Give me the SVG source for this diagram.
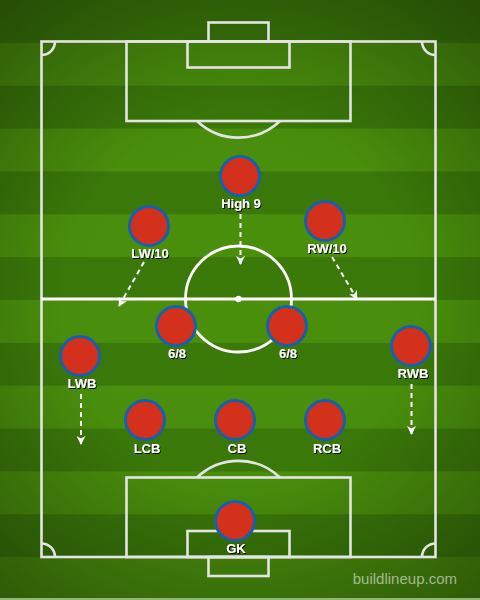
<svg xmlns="http://www.w3.org/2000/svg" width="480" height="600" viewBox="0 0 480 600">
  <defs>
    <radialGradient id="vig" cx="240" cy="300" r="400" gradientUnits="userSpaceOnUse">
      <stop offset="0" stop-color="#000" stop-opacity="0"/>
      <stop offset="0.45" stop-color="#000" stop-opacity="0.02"/>
      <stop offset="1" stop-color="#000" stop-opacity="0.4"/>
    </radialGradient>
    <pattern id="stripes" x="0" y="0" width="480" height="85.714" patternUnits="userSpaceOnUse">
      <rect x="0" y="0" width="480" height="42.857" fill="#3b7a09"/>
      <rect x="0" y="42.857" width="480" height="42.857" fill="#4a900c"/>
    </pattern>
    <marker id="ah" viewBox="0 0 10 10" refX="9" refY="5" markerWidth="9" markerHeight="9" markerUnits="userSpaceOnUse" orient="auto">
      <path d="M0 0 L10 5 L0 10 L3 5 Z" fill="#fff"/>
    </marker>
    <filter id="sh" x="-20%" y="-30%" width="140%" height="160%">
      <feDropShadow dx="1" dy="1" stdDeviation="0.6" flood-color="#000" flood-opacity="0.9"/>
    </filter>
  </defs>
  <style>
    .ln { fill: none; stroke: #e4e4e4; stroke-width: 2.6; }
    .wl { fill: none; stroke: #ffffff; stroke-width: 2.8; }
    .pl { fill: #d3311b; stroke: #1660b0; stroke-width: 3; }
    .lb { font-family: "Liberation Sans", Arial, sans-serif; font-weight: bold; font-size: 13px; fill: #ffffff; text-anchor: middle; filter: url(#sh); }
    .ar { fill: none; stroke: #ffffff; stroke-width: 2; stroke-dasharray: 5 4; marker-end: url(#ah); }
    .wm { font-family: "Liberation Sans", Arial, sans-serif; font-size: 15px; fill: #ffffff; fill-opacity: 0.55; text-anchor: end; }
  </style>

  <g id="pitch">
    <rect x="0" y="0" width="480" height="600" fill="url(#stripes)"/>
    <rect x="0" y="0" width="480" height="600" fill="url(#vig)"/>
    <rect x="0" y="598" width="480" height="2" fill="#8fb870"/>
    <rect class="ln" x="41.5" y="41.5" width="394" height="515.5"/>
    <rect class="ln" x="208.5" y="22.5" width="60" height="19"/>
    <rect class="ln" x="126.5" y="41.5" width="224" height="79.5"/>
    <rect class="ln" x="187.5" y="41.5" width="102" height="26"/>
    <path class="ln" d="M197 121 A60 60 0 0 0 280 121"/>
    <rect class="ln" x="208.5" y="557" width="60" height="19"/>
    <rect class="ln" x="126.5" y="477.5" width="224" height="79.5"/>
    <rect class="ln" x="187.5" y="531" width="102" height="26"/>
    <path class="ln" d="M197 477.5 A60 60 0 0 1 280 477.5"/>
    <path class="ln" stroke-width="1.8" d="M41.5 55 A13.5 13.5 0 0 0 55 41.5"/>
    <path class="ln" stroke-width="1.8" d="M422 41.5 A13.5 13.5 0 0 0 435.5 55"/>
    <path class="ln" stroke-width="1.8" d="M41.5 543.5 A13.5 13.5 0 0 1 55 557"/>
    <path class="ln" stroke-width="1.8" d="M422 557 A13.5 13.5 0 0 1 435.5 543.5"/>
    <line class="wl" x1="41.5" y1="299" x2="435.5" y2="299"/>
    <circle class="wl" cx="238.5" cy="299" r="53"/>
    <circle cx="238.5" cy="299" r="3.2" fill="#fff"/>
  </g>

  <g id="connectors">
    <line class="ar" x1="240.5" y1="214" x2="240.5" y2="264"/>
    <line class="ar" x1="144" y1="262" x2="119" y2="306"/>
    <line class="ar" x1="332" y1="257" x2="357" y2="299"/>
    <line class="ar" x1="81" y1="394" x2="81" y2="444"/>
    <line class="ar" x1="411.5" y1="384" x2="411.5" y2="434"/>
  </g>

  <g id="high9"><circle class="pl" cx="240" cy="176" r="19.5"/><text class="lb" x="241" y="208">High 9</text></g>
  <g id="lw10"><circle class="pl" cx="149" cy="226" r="19.5"/><text class="lb" x="150" y="258">LW/10</text></g>
  <g id="rw10"><circle class="pl" cx="325" cy="221" r="19.5"/><text class="lb" x="327" y="253">RW/10</text></g>
  <g id="cm-left"><circle class="pl" cx="176" cy="326" r="19.5"/><text class="lb" x="177" y="357.5">6/8</text></g>
  <g id="cm-right"><circle class="pl" cx="287" cy="326" r="19.5"/><text class="lb" x="288" y="357.5">6/8</text></g>
  <g id="lwb"><circle class="pl" cx="80" cy="356" r="19.5"/><text class="lb" x="82" y="388">LWB</text></g>
  <g id="rwb"><circle class="pl" cx="411" cy="346" r="19.5"/><text class="lb" x="413" y="378">RWB</text></g>
  <g id="lcb"><circle class="pl" cx="145" cy="420" r="19.5"/><text class="lb" x="147" y="452.5">LCB</text></g>
  <g id="cb"><circle class="pl" cx="235" cy="420" r="19.5"/><text class="lb" x="237" y="452.5">CB</text></g>
  <g id="rcb"><circle class="pl" cx="325" cy="420" r="19.5"/><text class="lb" x="327" y="452.5">RCB</text></g>
  <g id="gk"><circle class="pl" cx="235" cy="521" r="19.5"/><text class="lb" x="236" y="552.5">GK</text></g>

  <text class="wm" x="457" y="583.5">buildlineup.com</text>
</svg>
